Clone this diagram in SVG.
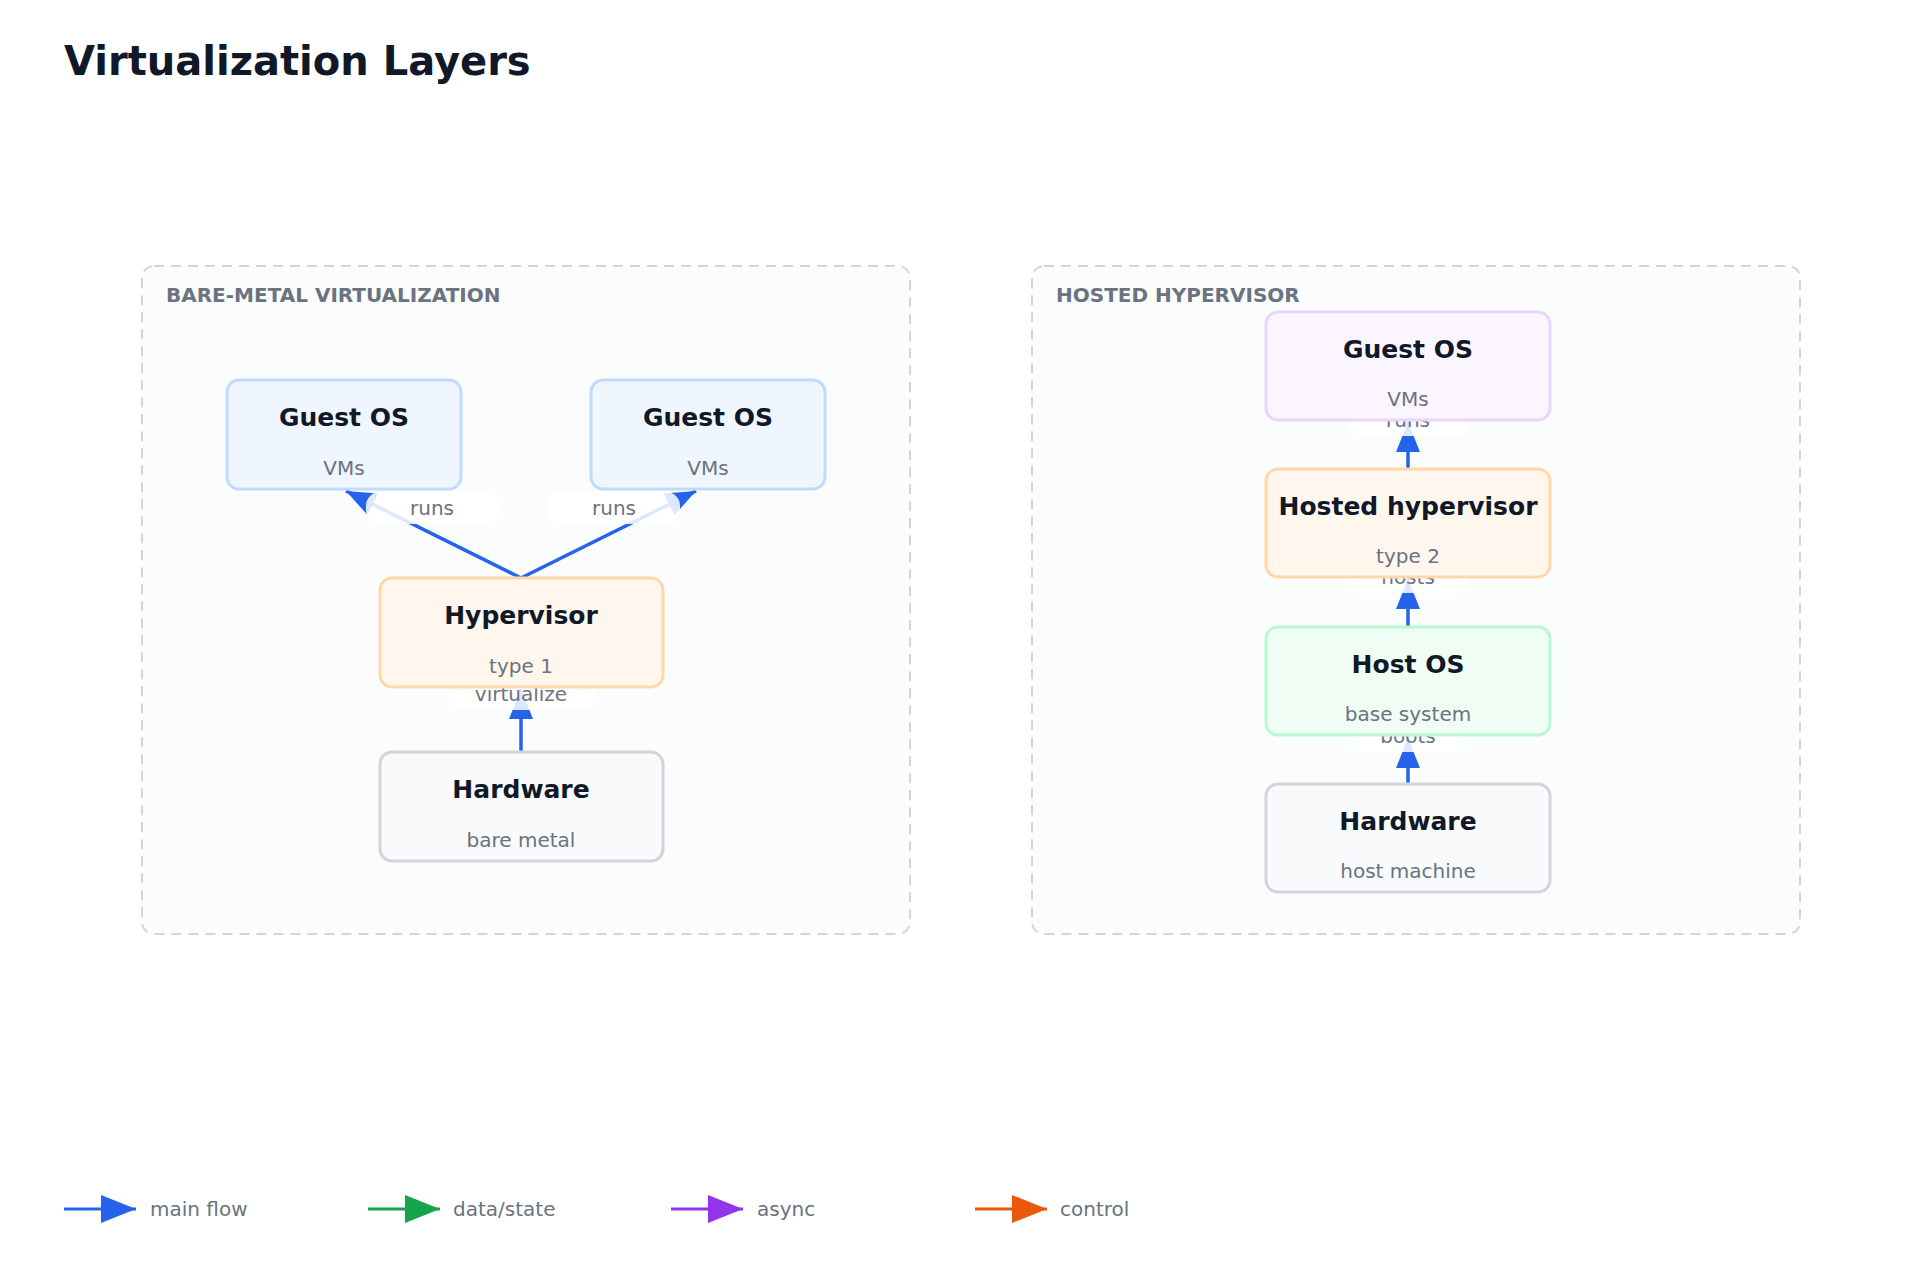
<svg xmlns="http://www.w3.org/2000/svg" width="1920" height="1280" viewBox="0 0 1920 1280">
<style>
text{font-family:"DejaVu Sans","Liberation Sans",sans-serif}
.title{font-size:40px;font-weight:bold;fill:#111827}
.cl{fill:#fbfcfc;stroke:#d1d5db;stroke-width:2;stroke-dasharray:10 7}
.cll{font-size:20px;font-weight:bold;fill:#6b7280}
.nt{font-size:25px;font-weight:bold;fill:#111827;text-anchor:middle}
.ns{font-size:20px;fill:#6b7280;text-anchor:middle}
.e{stroke:#2563eb;stroke-width:3.5;fill:none}
.lb{fill:#ffffff;opacity:0.85}
.el{font-size:20px;fill:#6b7280;text-anchor:middle}
.lg{font-size:20px;fill:#6b7280}
.blue{fill:#eff6ff;stroke:#bfdbfe;stroke-width:3}
.orange{fill:#fff7ed;stroke:#fed7aa;stroke-width:3}
.gray{fill:#f8fafc;stroke:#d1d5db;stroke-width:3}
.purple{fill:#faf5ff;stroke:#e9d5ff;stroke-width:3}
.green{fill:#f0fdf4;stroke:#bbf7d0;stroke-width:3}
</style>
<defs>
<marker id="ab" markerWidth="12" markerHeight="10" refX="11" refY="5" orient="auto" markerUnits="userSpaceOnUse" viewBox="0 0 12 10"><path d="M0,0L12,5L0,10z" fill="#2563eb"/></marker>
<marker id="a1" viewBox="0 0 10 10" refX="10" refY="5" markerWidth="10" markerHeight="10" orient="auto" markerUnits="strokeWidth"><path d="M0,0L10,5L0,10z" fill="#2563eb"/></marker>
<marker id="mb" viewBox="0 0 10 8" refX="10" refY="4" markerWidth="40" markerHeight="28" orient="auto" markerUnits="userSpaceOnUse"><path d="M0,0L10,4L0,8z" fill="#2563eb"/></marker>
<marker id="mg" viewBox="0 0 10 8" refX="10" refY="4" markerWidth="40" markerHeight="28" orient="auto" markerUnits="userSpaceOnUse"><path d="M0,0L10,4L0,8z" fill="#16a34a"/></marker>
<marker id="mp" viewBox="0 0 10 8" refX="10" refY="4" markerWidth="40" markerHeight="28" orient="auto" markerUnits="userSpaceOnUse"><path d="M0,0L10,4L0,8z" fill="#9333ea"/></marker>
<marker id="mo" viewBox="0 0 10 8" refX="10" refY="4" markerWidth="40" markerHeight="28" orient="auto" markerUnits="userSpaceOnUse"><path d="M0,0L10,4L0,8z" fill="#ea580c"/></marker>
<marker id="ar" viewBox="0 0 10 8" refX="10" refY="4" markerWidth="30" markerHeight="26" orient="auto" markerUnits="userSpaceOnUse"><path d="M0,0L10,4L0,8z" fill="#2563eb"/></marker>
</defs>
<rect width="1920" height="1280" fill="#ffffff"/>
<text x="64" y="75" class="title">Virtualization Layers</text>

<g id="cluster-bare">
<rect x="142" y="266" width="768" height="668" rx="12" class="cl"/>
<text x="166" y="302" class="cll">BARE-METAL VIRTUALIZATION</text>
</g>
<g id="cluster-hosted">
<rect x="1032" y="266" width="768" height="668" rx="12" class="cl"/>
<text x="1056" y="302" class="cll">HOSTED HYPERVISOR</text>
</g>

<g id="connectors">
<line x1="521" y1="578" x2="346" y2="491" class="e" marker-end="url(#ar)"/>
<line x1="521" y1="578" x2="696" y2="491" class="e" marker-end="url(#ar)"/>
<line x1="521" y1="752" x2="521" y2="689" class="e" marker-end="url(#ar)"/>
<line x1="1408" y1="784" x2="1408" y2="738" class="e" marker-end="url(#ar)"/>
<line x1="1408" y1="627" x2="1408" y2="579" class="e" marker-end="url(#ar)"/>
<line x1="1408" y1="469" x2="1408" y2="422" class="e" marker-end="url(#ar)"/>
<rect x="366" y="492" width="132" height="32" rx="14" class="lb"/>
<text x="432" y="515" class="el">runs</text>
<rect x="548" y="492" width="132" height="32" rx="14" class="lb"/>
<text x="614" y="515" class="el">runs</text>
<rect x="448" y="678" width="146" height="32" rx="14" class="lb"/>
<text x="521" y="701" class="el">virtualize</text>
<rect x="1348" y="720" width="120" height="32" rx="14" class="lb"/>
<text x="1408" y="743" class="el">boots</text>
<rect x="1348" y="561" width="120" height="32" rx="14" class="lb"/>
<text x="1408" y="584" class="el">hosts</text>
<rect x="1348" y="404" width="120" height="32" rx="14" class="lb"/>
<text x="1408" y="427" class="el">runs</text>
</g>

<g id="guest1"><rect x="227" y="380" width="234" height="109" rx="12" class="blue"/><text x="344" y="426" class="nt">Guest OS</text><text x="344" y="475" class="ns">VMs</text></g>
<g id="guest2"><rect x="591" y="380" width="234" height="109" rx="12" class="blue"/><text x="708" y="426" class="nt">Guest OS</text><text x="708" y="475" class="ns">VMs</text></g>
<g id="hypervisor"><rect x="380" y="578" width="283" height="109" rx="12" class="orange"/><text x="521" y="624" class="nt">Hypervisor</text><text x="521" y="673" class="ns">type 1</text></g>
<g id="hardware1"><rect x="380" y="752" width="283" height="109" rx="12" class="gray"/><text x="521" y="798" class="nt">Hardware</text><text x="521" y="847" class="ns">bare metal</text></g>

<g id="guest3"><rect x="1266" y="312" width="284" height="108" rx="12" class="purple"/><text x="1408" y="358" class="nt">Guest OS</text><text x="1408" y="406" class="ns">VMs</text></g>
<g id="hosted"><rect x="1266" y="469" width="284" height="108" rx="12" class="orange"/><text x="1408" y="515" class="nt">Hosted hypervisor</text><text x="1408" y="563" class="ns">type 2</text></g>
<g id="hostos"><rect x="1266" y="627" width="284" height="108" rx="12" class="green"/><text x="1408" y="673" class="nt">Host OS</text><text x="1408" y="721" class="ns">base system</text></g>
<g id="hardware2"><rect x="1266" y="784" width="284" height="108" rx="12" class="gray"/><text x="1408" y="830" class="nt">Hardware</text><text x="1408" y="878" class="ns">host machine</text></g>

<g id="legend">
<line x1="64" y1="1209" x2="136" y2="1209" stroke="#2563eb" stroke-width="3" marker-end="url(#mb)"/>
<text x="150" y="1216" class="lg">main flow</text>
<line x1="368" y1="1209" x2="440" y2="1209" stroke="#16a34a" stroke-width="3" marker-end="url(#mg)"/>
<text x="453" y="1216" class="lg">data/state</text>
<line x1="671" y1="1209" x2="743" y2="1209" stroke="#9333ea" stroke-width="3" marker-end="url(#mp)"/>
<text x="757" y="1216" class="lg">async</text>
<line x1="975" y1="1209" x2="1047" y2="1209" stroke="#ea580c" stroke-width="3" marker-end="url(#mo)"/>
<text x="1060" y="1216" class="lg">control</text>
</g>
</svg>
